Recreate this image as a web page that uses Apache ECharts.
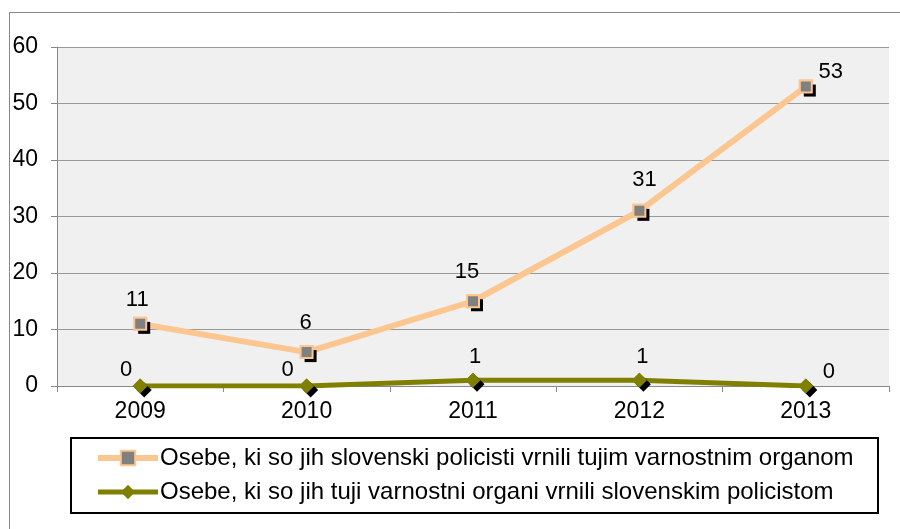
<!DOCTYPE html>
<html>
<head>
<meta charset="utf-8">
<script src="https://cdn.jsdelivr.net/npm/echarts@6/dist/echarts.min.js"></script>
<style>
html,body{margin:0;padding:0;background:#fff;}
#chart{width:900px;height:529px;}
</style>
</head>
<body>
<div id="chart"></div>
<script>
var mychart = echarts.init(document.getElementById("chart"));

const years = ['2009', '2010', '2011', '2012', '2013'];
const vrnjeniTujim = [11, 6, 15, 31, 53];
const vrnjeniNam = [0, 0, 1, 1, 0];
const names = [
    'Osebe, ki so jih slovenski policisti vrnili tujim varnostnim organom',
    'Osebe, ki so jih tuji varnostni organi vrnili slovenskim policistom'
];

// label placement like in the excel chart (offset from point centre)
const labelOffsetA = [[-3, -24], [-1, -29], [-6, -29], [5, -31], [25, -15]];
const labelOffsetB = [[-14, -16], [-19, -16], [2, -23], [3, -23], [23, -14]];

function withLabels(values, offsets) {
    return values.map(function (v, i) {
        return { value: v, label: { offset: offsets[i] } };
    });
}

const orange = '#fcc690';
const olive = '#808000';

option = {
    backgroundColor: '#fff',
    animation: false,
    textStyle: { fontFamily: 'Liberation Sans, Arial, sans-serif' },
    graphic: [
        {
            type: 'rect', left: 7, top: 10, z: -10,
            shape: { width: 900, height: 530 },
            style: { fill: 'none', stroke: '#888', lineWidth: 1 }
        },
        {
            type: 'rect', left: 70, top: 437, z: -10,
            shape: { width: 807, height: 75 },
            style: { fill: '#fff', stroke: '#000', lineWidth: 2 }
        }
    ],
    grid: {
        left: 57,
        right: 11,
        top: 47,
        bottom: 143,
        show: true,
        backgroundColor: '#f0f0f0',
        borderWidth: 0
    },
    legend: {
        orient: 'vertical',
        left: 95,
        top: 446,
        padding: 0,
        itemWidth: 60,
        itemHeight: 18,
        itemGap: 10,
        textStyle: { fontSize: 24, color: '#000', padding: [0, 0, 0, -3] },
        data: [
            { name: names[0], lineStyle: { width: 6 } },
            { name: names[1], lineStyle: { width: 5 } }
        ]
    },
    xAxis: {
        type: 'category',
        data: years,
        axisLine: { lineStyle: { color: '#888' } },
        axisTick: { show: true, length: 6, lineStyle: { color: '#888' } },
        axisLabel: { fontSize: 23, color: '#000', margin: 14 }
    },
    yAxis: {
        type: 'value',
        min: 0,
        max: 60,
        interval: 10,
        axisLine: { show: true, lineStyle: { color: '#888' } },
        axisTick: { show: true, length: 6, lineStyle: { color: '#888' } },
        axisLabel: { fontSize: 23, color: '#000', margin: 19 },
        splitLine: { lineStyle: { color: '#999', width: 1 } }
    },
    series: [
        {
            name: names[0],
            type: 'line',
            data: vrnjeniTujim,
            symbol: 'rect',
            symbolSize: 12,
            lineStyle: { color: orange, width: 6 },
            itemStyle: { color: '#808080', borderColor: orange, borderWidth: 2 },
            z: 2
        },
        {
            name: names[1],
            type: 'line',
            data: vrnjeniNam,
            symbol: 'diamond',
            symbolSize: 15,
            lineStyle: { color: olive, width: 5 },
            itemStyle: { color: olive },
            z: 2
        },
        // black drop shadows of the markers
        {
            name: 'shadowA',
            type: 'scatter',
            data: vrnjeniTujim,
            symbol: 'rect',
            symbolSize: 12,
            symbolOffset: [4, 4],
            itemStyle: { color: '#000', opacity: 1 },
            z: 3
        },
        {
            name: 'shadowB',
            type: 'scatter',
            data: vrnjeniNam,
            symbol: 'diamond',
            symbolSize: 15,
            symbolOffset: [4, 4],
            itemStyle: { color: '#000', opacity: 1 },
            z: 3
        },
        // markers on top, with the value labels
        {
            name: 'markA',
            type: 'scatter',
            data: withLabels(vrnjeniTujim, labelOffsetA),
            symbol: 'rect',
            symbolSize: 12,
            itemStyle: { color: '#808080', borderColor: orange, borderWidth: 2, opacity: 1 },
            label: { show: true, position: 'inside', fontSize: 22, color: '#000' },
            z: 4
        },
        {
            name: 'markB',
            type: 'scatter',
            data: withLabels(vrnjeniNam, labelOffsetB),
            symbol: 'diamond',
            symbolSize: 15,
            itemStyle: { color: olive, opacity: 1 },
            label: { show: true, position: 'inside', fontSize: 22, color: '#000' },
            z: 4
        }
    ]
};
mychart.setOption(option, true);
</script>
</body>
</html>
